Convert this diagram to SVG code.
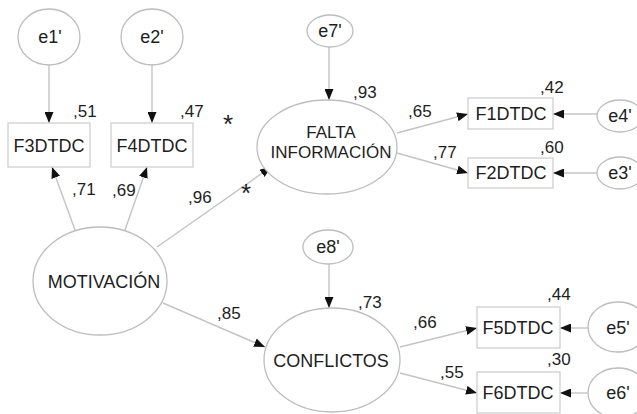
<svg xmlns="http://www.w3.org/2000/svg" width="637" height="414" viewBox="0 0 637 414">
<defs>
<marker id="arr" markerUnits="userSpaceOnUse" markerWidth="11" markerHeight="9" refX="11" refY="4.5" orient="auto">
<path d="M0,0 L11,4.5 L0,9 z" fill="#111"/>
</marker>
<style>
.node ellipse{fill:#fff;stroke:#bdbdbd;stroke-width:1.3}
.node rect{fill:#fff;stroke:#cfcfcf;stroke-width:1.3}
text{font-family:"Liberation Sans",Arial,sans-serif;font-size:17px;fill:#1e1e1e}
.node text{font-size:18px}
#falta text{font-size:17px}
.c{text-anchor:middle}
.ast{font-size:26px;text-anchor:middle}
#connectors line{stroke:#c4c4c4;stroke-width:1.4;marker-end:url(#arr)}
</style>
</defs>
<rect width="637" height="414" fill="#fff"/>
<g id="connectors">
<line x1="49" y1="65" x2="49" y2="123"/>
<line x1="152" y1="65" x2="152" y2="123"/>
<line x1="75" y1="230" x2="52" y2="167"/>
<line x1="125" y1="230" x2="147" y2="167"/>
<line x1="157" y1="247" x2="271" y2="167"/>
<line x1="329" y1="47" x2="329" y2="100"/>
<line x1="397" y1="133" x2="468" y2="114"/>
<line x1="397" y1="153" x2="468" y2="173"/>
<line x1="597" y1="114" x2="553" y2="114"/>
<line x1="597" y1="173" x2="553" y2="173"/>
<line x1="329" y1="264" x2="329" y2="308"/>
<line x1="163" y1="303" x2="265" y2="347"/>
<line x1="400" y1="347" x2="477" y2="328"/>
<line x1="400" y1="373" x2="477" y2="393"/>
<line x1="588" y1="328" x2="560" y2="328"/>
<line x1="588" y1="393" x2="560" y2="393"/>
</g>
<g id="e1" class="node"><ellipse cx="49" cy="37" rx="31" ry="28"/><text class="c" x="50" y="43">e1'</text></g>
<g id="e2" class="node"><ellipse cx="152" cy="37" rx="31" ry="28"/><text class="c" x="152" y="43">e2'</text></g>
<g id="F3DTDC" class="node"><rect x="8" y="123" width="82" height="44"/><text class="c" x="49" y="152">F3DTDC</text></g>
<g id="F4DTDC" class="node"><rect x="111" y="123" width="82" height="44"/><text class="c" x="152" y="152">F4DTDC</text></g>
<g id="motivacion" class="node"><ellipse cx="100" cy="281" rx="67" ry="54"/><text class="c" x="104" y="288">MOTIVACIÓN</text></g>
<g id="e7" class="node"><ellipse cx="330" cy="31" rx="23" ry="16"/><text class="c" x="330" y="37">e7'</text></g>
<g id="falta" class="node"><ellipse cx="327" cy="147" rx="70" ry="47"/><text class="c" x="331" y="138">FALTA</text><text class="c" x="331" y="158">INFORMACIÓN</text></g>
<g id="F1DTDC" class="node"><rect x="468" y="98" width="85" height="31"/><text class="c" x="511" y="120">F1DTDC</text></g>
<g id="F2DTDC" class="node"><rect x="468" y="158" width="85" height="30"/><text class="c" x="511" y="179">F2DTDC</text></g>
<g id="e4" class="node"><ellipse cx="620" cy="116" rx="23" ry="16"/><text class="c" x="620" y="122">e4'</text></g>
<g id="e3" class="node"><ellipse cx="620" cy="173" rx="23" ry="16"/><text class="c" x="620" y="179">e3'</text></g>
<g id="e8" class="node"><ellipse cx="328" cy="247" rx="25" ry="17"/><text class="c" x="328" y="253">e8'</text></g>
<g id="conflictos" class="node"><ellipse cx="332" cy="360" rx="68" ry="52"/><text class="c" x="331" y="367">CONFLICTOS</text></g>
<g id="F5DTDC" class="node"><rect x="477" y="307" width="83" height="41"/><text class="c" x="518" y="334">F5DTDC</text></g>
<g id="F6DTDC" class="node"><rect x="477" y="372" width="83" height="41"/><text class="c" x="518" y="399">F6DTDC</text></g>
<g id="e5" class="node"><ellipse cx="618" cy="327" rx="30" ry="25"/><text class="c" x="618" y="334">e5'</text></g>
<g id="e6" class="node"><ellipse cx="618" cy="393" rx="30" ry="25"/><text class="c" x="618" y="399">e6'</text></g>
<g id="labels">
<text x="73" y="117">,51</text>
<text x="180" y="117">,47</text>
<text class="ast" x="228" y="133">*</text>
<text class="ast" x="246" y="202">*</text>
<text x="72" y="195">,71</text>
<text x="112" y="196">,69</text>
<text x="188" y="203">,96</text>
<text x="353" y="98">,93</text>
<text x="408" y="117">,65</text>
<text x="433" y="158">,77</text>
<text x="540" y="93">,42</text>
<text x="540" y="153">,60</text>
<text x="358" y="308">,73</text>
<text x="217" y="319">,85</text>
<text x="413" y="328">,66</text>
<text x="440" y="378">,55</text>
<text x="547" y="300">,44</text>
<text x="547" y="365">,30</text>
</g>
</svg>
